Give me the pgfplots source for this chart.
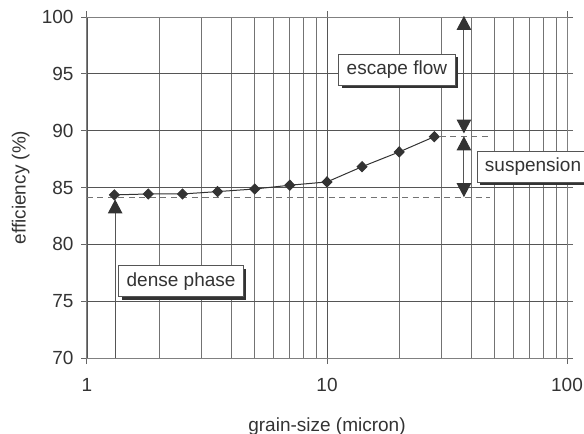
\documentclass[border=0pt]{standalone}
\usepackage{pgfplots}
\pgfplotsset{compat=1.18}
\usepackage{fontspec}
\setmainfont{Liberation Sans}
\usetikzlibrary{arrows.meta,shadows}
\definecolor{dk}{HTML}{333333}
\definecolor{gr}{HTML}{555555}
\begin{document}
\begin{tikzpicture}[font=\fontsize{19bp}{22bp}\selectfont,
  lab/.style={draw=gr, fill=white, line width=0.8bp, anchor=west, inner xsep=8bp, inner ysep=2bp, minimum height=31bp, text=dk,
    drop shadow={shadow xshift=3bp, shadow yshift=-3bp, fill=dk, opacity=1}},
  arr/.style={gr, line width=1bp},
  tip/.tip={Triangle[length=14bp,width=14.5bp,fill=dk,color=dk]}]
\path[use as bounding box] (-87bp,-76bp) rectangle (497bp,358bp);
\begin{axis}[at={(0,0)}, anchor=south west, scale only axis, width=480bp, height=341bp,
  xmode=log, xmin=1, xmax=100, ymin=70, ymax=100,
  xtick={1,10,100}, xticklabels={1,10,100},
  ytick={70,75,80,85,90,95,100},
  /pgf/number format/assume math mode=true,
  tick align=outside, major tick length=6bp, minor tick length=0pt,
  xmajorgrids, xminorgrids, ymajorgrids,
  major grid style={gr, line width=0.8bp},
  minor grid style={black!55, line width=0.8bp},
  axis line style={black!50, line width=1bp},
  tick style={black!60, line width=1bp},
  ticklabel style={text=dk},
  xticklabel style={yshift=-11bp},
  yticklabel style={xshift=-4bp},
  clip=false,
  xlabel={grain-size (micron)}, ylabel={efficiency (\%)},
  label style={text=dk},
  xlabel style={at={(axis description cs:0.5,-0.2)}, anchor=center},
  ylabel style={at={(axis description cs:-0.138,0.5)}, anchor=center},
]
% dashed reference lines
\addplot[black!55, line width=1.2bp, dash pattern=on 6bp off 4.5bp] coordinates {(1,84.1) (47.7,84.1)};
\addplot[black!55, line width=1.2bp, dash pattern=on 6bp off 4.5bp] coordinates {(29.5,89.5) (47.7,89.5)};
% arrows
\addplot[arr, {tip}-{tip}] coordinates {(37.2,89.75) (37.2,100.1)};
\addplot[arr, {tip}-{tip}] coordinates {(37.2,84.15) (37.2,89.5)};
\addplot[arr, -{tip}] coordinates {(1.31,70) (1.31,83.95)};
% data
\addplot[dk, line width=1bp, mark=diamond*, mark size=5bp, mark options={fill=dk, draw=dk, xscale=1.3}]
  coordinates {(1.3,84.35) (1.8,84.43) (2.5,84.43) (3.5,84.64) (5,84.87) (7,85.2) (10,85.49) (14,86.83) (20,88.13) (28,89.47)};
\node[lab] at (axis cs:11.15,95.34) {escape flow};
\node[lab] at (axis cs:1.35,76.76) {dense phase};
\node[lab] at (axis cs:42.0,86.83) {suspension};
\end{axis}
\end{tikzpicture}
\end{document}
